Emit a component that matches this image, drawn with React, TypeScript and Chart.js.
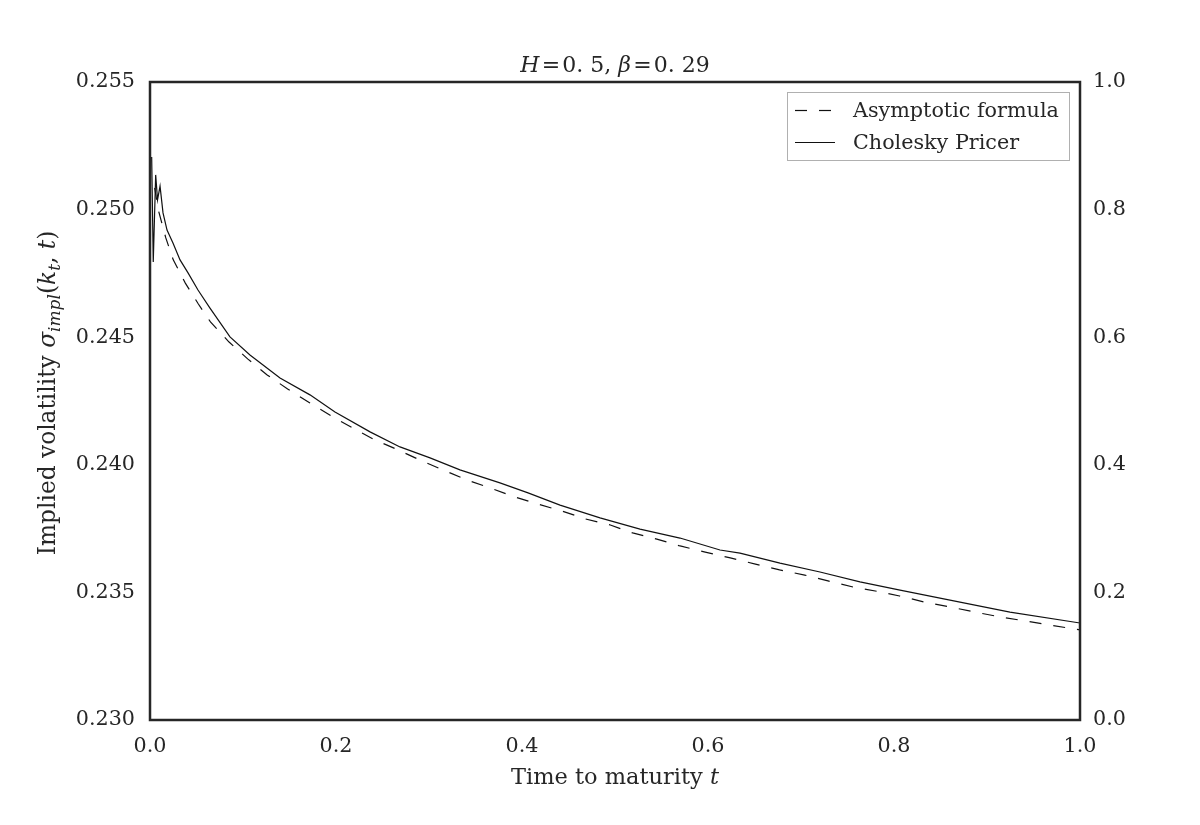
import React, { useEffect, useRef } from "react";
import { Chart, registerables } from "chart.js";

Chart.register(...registerables);

const WIDTH = 1200;
const HEIGHT = 825;
const FONT = '"DejaVu Serif", serif';
const INK = "#262626";
const LINE = "#111111";

// Asymptotic formula (dashed)
const tAsymptotic = [
  0.005, 0.009, 0.017, 0.025, 0.038, 0.052, 0.065, 0.085, 0.105, 0.126, 0.148,
  0.172, 0.195, 0.218, 0.242, 0.267, 0.29, 0.315, 0.341, 0.366, 0.389, 0.417,
  0.443, 0.468, 0.495, 0.519, 0.545, 0.57, 0.597, 0.624, 0.651, 0.677, 0.704,
  0.729, 0.756, 0.782, 0.806, 0.833, 0.86, 0.887, 0.914, 0.941, 0.968, 1.0,
];
const volAsymptotic = [
  0.25085, 0.24998, 0.24889, 0.24803, 0.24712, 0.2463, 0.2456, 0.24481,
  0.24415, 0.24352, 0.24297, 0.24242, 0.24191, 0.24144, 0.24097, 0.24058,
  0.24019, 0.2398, 0.2394, 0.23909, 0.23878, 0.23846, 0.23819, 0.23788,
  0.23764, 0.23733, 0.23709, 0.23682, 0.23658, 0.23635, 0.23611, 0.23588,
  0.23568, 0.23545, 0.23521, 0.23504, 0.23486, 0.23462, 0.23443, 0.23423,
  0.23404, 0.23388, 0.23372, 0.23353,
];

// Cholesky pricer (solid)
const tCholesky = [
  0.0018, 0.0035, 0.0061, 0.0081, 0.0108, 0.014, 0.0183, 0.0247, 0.0323,
  0.0409, 0.0516, 0.0645, 0.086, 0.1075, 0.1398, 0.172, 0.1989, 0.2366,
  0.2688, 0.3011, 0.3333, 0.3763, 0.4065, 0.4409, 0.4839, 0.5269, 0.5699,
  0.6129, 0.6344, 0.6774, 0.7204, 0.7634, 0.8065, 0.8602, 0.9247, 1.0,
];
const volCholesky = [
  0.25206, 0.24795, 0.25136, 0.25038, 0.25092, 0.24987, 0.2492, 0.24869,
  0.24803, 0.24752, 0.24685, 0.24614, 0.24501, 0.2443, 0.2434, 0.24274,
  0.24207, 0.24129, 0.2407, 0.24027, 0.2398, 0.23929, 0.2389, 0.23842,
  0.23792, 0.23748, 0.23713, 0.23666, 0.23654, 0.23615, 0.2358, 0.23541,
  0.23509, 0.2347, 0.23423, 0.2338,
];

const timeTicks = [0, 0.2, 0.4, 0.6, 0.8, 1.0];
const volTicks = [0.23, 0.235, 0.24, 0.245, 0.25, 0.255];
const rightTicks = [0, 0.2, 0.4, 0.6, 0.8, 1.0];

const seriesLabels = ["Asymptotic formula", "Cholesky Pricer"];

type Run = { text: string; italic?: boolean; size?: number; dy?: number };

function runFont(r: Run, base: number) {
  return `${r.italic ? "italic " : ""}${r.size ?? base}px ${FONT}`;
}

function drawRuns(
  ctx: CanvasRenderingContext2D,
  runs: Run[],
  x: number,
  y: number,
  base: number
) {
  const widths = runs.map((r) => {
    ctx.font = runFont(r, base);
    return ctx.measureText(r.text).width;
  });
  const total = widths.reduce((a, b) => a + b, 0);
  let cx = x - total / 2;
  ctx.textAlign = "left";
  ctx.textBaseline = "alphabetic";
  runs.forEach((r, i) => {
    ctx.font = runFont(r, base);
    ctx.fillText(r.text, cx, y + (r.dy ?? 0));
    cx += widths[i];
  });
}

const titleRuns: Run[] = [
  { text: "H", italic: true },
  { text: "\u200a=\u200a" },
  { text: "0. 5, " },
  { text: "\u03b2", italic: true },
  { text: "\u200a=\u200a" },
  { text: "0. 29" },
];

const xTitleRuns: Run[] = [
  { text: "Time to maturity " },
  { text: "t", italic: true },
];

const yTitleRuns: Run[] = [
  { text: "Implied volatility " },
  { text: "\u03c3", italic: true },
  { text: "impl", italic: true, size: 17, dy: 5 },
  { text: "(" },
  { text: "k", italic: true },
  { text: "t", italic: true, size: 17, dy: 5 },
  { text: ", " },
  { text: "t", italic: true },
  { text: ")" },
];

const decorations = {
  id: "decorations",
  afterDatasetsDraw(chart: Chart) {
    const { ctx, chartArea } = chart;
    const { left, right, top, bottom } = chartArea;
    ctx.save();

    // axes frame
    ctx.strokeStyle = INK;
    ctx.lineWidth = 2.5;
    ctx.strokeRect(left, top, right - left, bottom - top);

    ctx.fillStyle = INK;
    // title
    drawRuns(ctx, titleRuns, (left + right) / 2, 72, 22);
    // x axis title
    drawRuns(ctx, xTitleRuns, (left + right) / 2, 784, 22.5);
    // y axis title
    ctx.save();
    ctx.translate(55, 393);
    ctx.rotate(-Math.PI / 2);
    drawRuns(ctx, yTitleRuns, 0, 0, 23.3);
    ctx.restore();

    // legend
    const bx = 787;
    const by = 92;
    const bw = 282;
    const bh = 68;
    ctx.fillStyle = "#ffffff";
    ctx.fillRect(bx, by, bw, bh);
    ctx.strokeStyle = "#b0b0b0";
    ctx.lineWidth = 1;
    ctx.strokeRect(bx + 0.5, by + 0.5, bw, bh);
    chart.data.datasets.forEach((ds: any, i: number) => {
      const ly = 110 + i * 32;
      ctx.strokeStyle = ds.borderColor;
      ctx.lineWidth = ds.borderWidth;
      ctx.setLineDash(ds.borderDash || []);
      ctx.beginPath();
      ctx.moveTo(795, ly + 0.5);
      ctx.lineTo(835, ly + 0.5);
      ctx.stroke();
      ctx.setLineDash([]);
      ctx.fillStyle = INK;
      ctx.font = `20.7px ${FONT}`;
      ctx.textAlign = "left";
      ctx.textBaseline = "alphabetic";
      ctx.fillText(ds.label, 853, ly + 7);
    });
    ctx.restore();
  },
};

export default function App() {
  const canvasRef = useRef<HTMLCanvasElement | null>(null);

  useEffect(() => {
    const canvas = canvasRef.current;
    if (!canvas) return;
    const tickFont = { family: FONT, size: 20.7 };
    const chart = new Chart(canvas, {
      type: "line",
      data: {
        datasets: [
          {
            label: seriesLabels[0],
            data: tAsymptotic.map((t, i) => ({ x: t, y: volAsymptotic[i] })),
            borderColor: LINE,
            borderWidth: 1.2,
            borderDash: [12, 12],
            pointRadius: 0,
            fill: false,
            yAxisID: "y",
          },
          {
            label: seriesLabels[1],
            data: tCholesky.map((t, i) => ({ x: t, y: volCholesky[i] })),
            borderColor: LINE,
            borderWidth: 1.2,
            pointRadius: 0,
            fill: false,
            yAxisID: "y",
          },
        ],
      },
      options: {
        responsive: false,
        animation: false,
        layout: { padding: { top: 82, left: 0, right: 0, bottom: 0 } },
        plugins: {
          legend: { display: false },
          title: { display: false },
          tooltip: { enabled: false },
        },
        scales: {
          x: {
            type: "linear",
            min: 0,
            max: 1,
            afterBuildTicks: (s: any) => {
              s.ticks = timeTicks.map((v) => ({ value: v }));
            },
            ticks: {
              font: tickFont,
              color: INK,
              padding: 14,
              maxRotation: 0,
              callback: (v: any) => Number(v).toFixed(1),
            },
            grid: { display: false, drawTicks: false },
            border: { display: false },
            afterFit: (s: any) => {
              s.height = 105;
            },
          },
          y: {
            type: "linear",
            position: "left",
            min: 0.23,
            max: 0.255,
            afterBuildTicks: (s: any) => {
              s.ticks = volTicks.map((v) => ({ value: v }));
            },
            ticks: {
              font: tickFont,
              color: INK,
              padding: 15,
              callback: (v: any) => Number(v).toFixed(3),
            },
            grid: { display: false, drawTicks: false },
            border: { display: false },
            afterFit: (s: any) => {
              s.width = 150;
            },
          },
          y2: {
            type: "linear",
            position: "right",
            display: true,
            min: 0,
            max: 1,
            afterBuildTicks: (s: any) => {
              s.ticks = rightTicks.map((v) => ({ value: v }));
            },
            ticks: {
              font: tickFont,
              color: INK,
              padding: 13,
              callback: (v: any) => Number(v).toFixed(1),
            },
            grid: { display: false, drawTicks: false },
            border: { display: false },
            afterFit: (s: any) => {
              s.width = 120;
            },
          },
        },
      } as any,
      plugins: [decorations],
    });
    return () => chart.destroy();
  }, []);

  return (
    <div
      style={{
        position: "absolute",
        left: 0,
        top: 0,
        width: WIDTH,
        height: HEIGHT,
        background: "#ffffff",
      }}
    >
      <canvas ref={canvasRef} width={WIDTH} height={HEIGHT} />
    </div>
  );
}
